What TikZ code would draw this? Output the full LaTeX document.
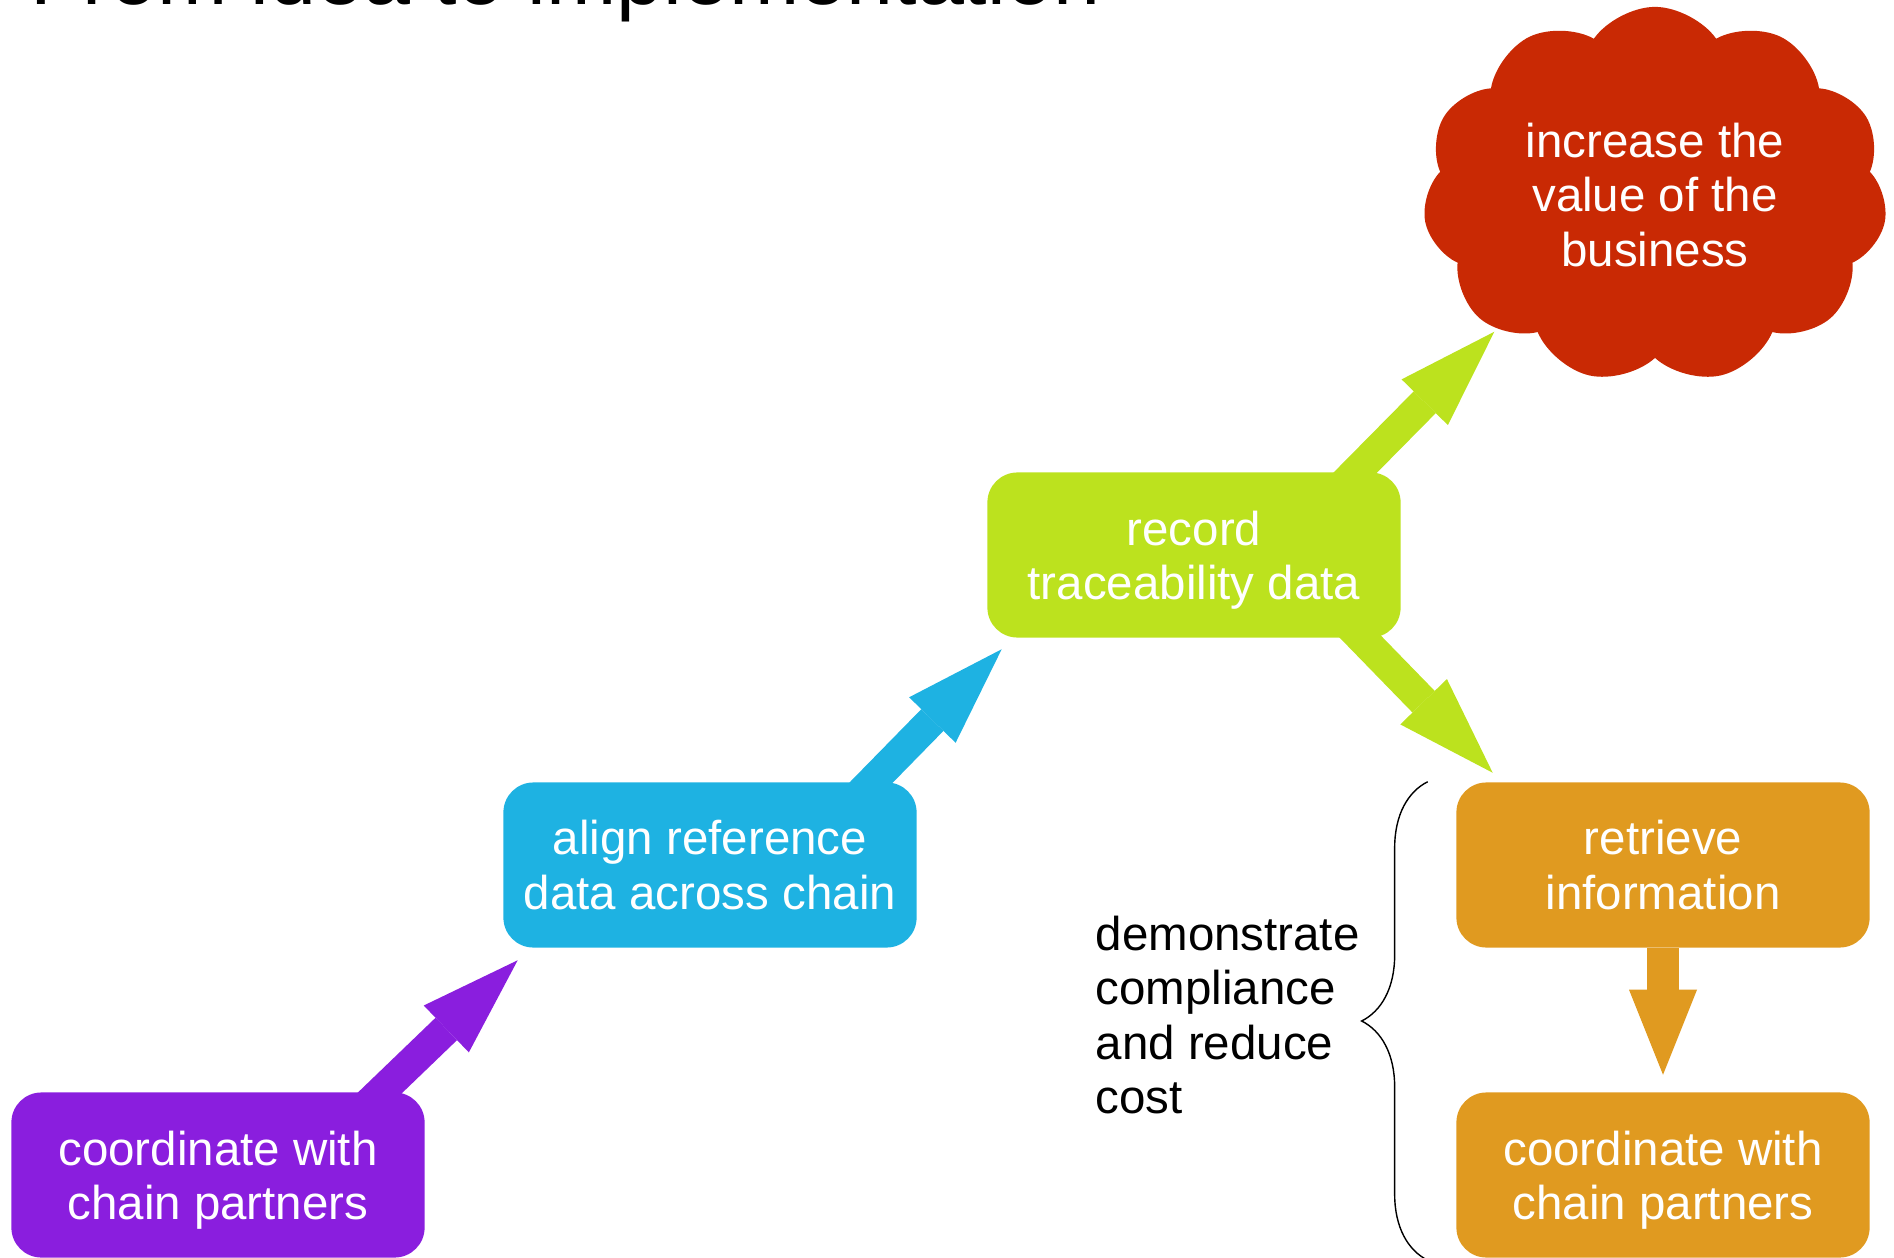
\documentclass[tikz,border=0pt]{standalone}
\usepackage{fontspec}
\setmainfont{Liberation Sans}
\usetikzlibrary{arrows.meta,calc,shapes.symbols,decorations.pathreplacing}

\definecolor{purplestep}{RGB}{138,30,222}
\definecolor{bluestep}{RGB}{30,178,226}
\definecolor{greenstep}{RGB}{188,226,30}
\definecolor{orangestep}{RGB}{224,154,32}
\definecolor{redgoal}{RGB}{201,41,4}

\newcommand{\nodepth}[1]{\raisebox{0pt}[\height][0pt]{#1}}

\pgfdeclarelayer{bg}
\pgfsetlayers{bg,main}

\begin{document}
\begin{tikzpicture}[x=0.01cm,y=-0.01cm,
  txt/.style={font=\fontsize{13.5}{15.4}\selectfont},
  stepbox/.style={txt, fill=#1, text=white, rounded corners=3mm, align=center,
    minimum width=4.13cm, minimum height=1.65cm, inner sep=0pt},
  fatarrow/.style={draw=#1, line width=3.1mm,
    -{Triangle[length=9.9mm,width=6.5mm,line width=0pt]}}]
\path[use as bounding box] (0,0) rectangle (1894,1258);
\clip (0,0) rectangle (1894,1258);

\node[anchor=base west, inner sep=0pt, font=\fontsize{24}{28}\selectfont] (0) at (30,4.5)
{From idea to implementation};

\node[stepbox=purplestep] (1) at (218,1175) {coordinate with\\\nodepth{chain partners}};

\node[stepbox=bluestep] (2) at (710,865) {align reference\\data across chain};

\node[stepbox=greenstep] (3) at (1194,555) {record\\\nodepth{traceability data}};

\node[cloud, cloud puffs=11, cloud puff arc=110, aspect=1.25, fill=redgoal, text=white,
  txt, align=center, minimum width=4.64cm, minimum height=3.76cm] (4) at (1655,195)
{increase the\\value of the\\business};

\node[stepbox=orangestep] (5) at (1663,865) {retrieve\\information};

\node[stepbox=orangestep] (6) at (1663,1175) {coordinate with\\\nodepth{chain partners}};

\node[txt, anchor=west, align=left, inner sep=0pt] (7) at (1095,1015)
{demonstrate\\compliance\\and reduce\\cost};

\begin{pgfonlayer}{bg}
\draw[fatarrow=purplestep] ($(1.north east)+(-63,18)$) -- ($(2.south west)+(15,12)$);
\draw[fatarrow=bluestep] ($(2.north east)+(-63,18)$) -- ($(3.south west)+(15,11)$);
\draw[fatarrow=greenstep] ($(3.north east)+(-63,18)$) -- ($(3.north east)+(93,-140)$);
\draw[fatarrow=greenstep] ($(3.south east)+(-57,-18)$) -- ($(5.north west)+(37,-9)$);
\end{pgfonlayer}

\draw[draw=orangestep, line width=3.2mm,
  -{Triangle[length=8.5mm,width=6.8mm,line width=0pt]}] (5.south) -- ($(6.north)+(0,-17)$);

\draw[line width=0.4pt, decorate, decoration={brace, amplitude=6.6mm}]
  ($(6.south west)+(-28,2)$) -- ($(5.north west)+(-28,0)$);
\end{tikzpicture}
\end{document}
